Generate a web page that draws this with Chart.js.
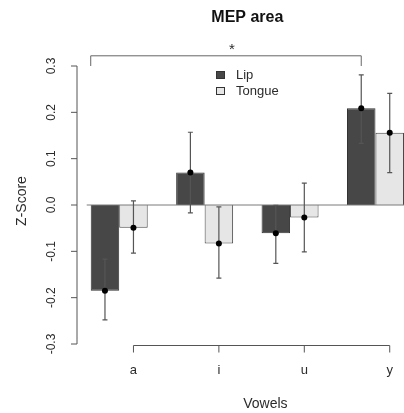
<!DOCTYPE html>
<html>
<head>
<meta charset="utf-8">
<script src="https://cdn.jsdelivr.net/npm/chart.js@4.4.1/dist/chart.umd.min.js"></script>
<style>
    html, body { margin: 0; padding: 0; overflow: hidden; background: #fff; }
    #wrap { position: relative; width: 420px; height: 413px; }
</style>
</head>
<body>
<div id="wrap"><canvas id="mepChart"></canvas></div>
<script>
// ================================
// DATA
// ================================
const vowels = ['a', 'i', 'u', 'y'];

const lipMean = [-0.185, 0.070, -0.061, 0.209];
const lipLow = [-0.248, -0.017, -0.126, 0.133];
const lipHigh = [-0.117, 0.157, -0.001, 0.281];

const tongueMean = [-0.049, -0.083, -0.027, 0.156];
const tongueLow = [-0.104, -0.158, -0.101, 0.070];
const tongueHigh = [0.009, -0.004, 0.047, 0.241];

const yTicks = [-0.3, -0.2, -0.1, 0.0, 0.1, 0.2, 0.3];
const yTickLabels = ['-0.3', '-0.2', '-0.1', '0.0', '0.1', '0.2', '0.3'];

// significance bracket (Lip a .. Lip y)
const sigLevel = 0.322;
const sigDrop = 0.3;
const sigLabel = '*';

const FONT = '"Liberation Sans", Arial, sans-serif';
const INK = '#2b2b2b';

// ================================
// R-STYLE DECORATIONS
// ================================
const rDecor = {
    id: 'rDecor',
    afterDatasetsDraw(chart) {
        const ctx = chart.ctx;
        const area = chart.chartArea;
        const y = chart.scales.y;
        const lipBars = chart.getDatasetMeta(0).data;
        const tongueBars = chart.getDatasetMeta(1).data;

        ctx.save();

        // zero line
        ctx.strokeStyle = '#7a7a7a';
        ctx.lineWidth = 1;
        ctx.beginPath();
        ctx.moveTo(lipBars[0].x - lipBars[0].width / 2 - 4, y.getPixelForValue(0));
        ctx.lineTo(chart.width, y.getPixelForValue(0));
        ctx.stroke();

        // error bars + mean points
        const drawErr = (bars, means, lows, highs) => {
            bars.forEach((bar, i) => {
                const top = y.getPixelForValue(highs[i]);
                const bot = y.getPixelForValue(lows[i]);
                ctx.strokeStyle = '#555';
                ctx.lineWidth = 1.2;
                ctx.beginPath();
                ctx.moveTo(bar.x, top); ctx.lineTo(bar.x, bot);
                ctx.moveTo(bar.x - 2.5, top); ctx.lineTo(bar.x + 2.5, top);
                ctx.moveTo(bar.x - 2.5, bot); ctx.lineTo(bar.x + 2.5, bot);
                ctx.stroke();
                ctx.fillStyle = '#000';
                ctx.beginPath();
                ctx.arc(bar.x, y.getPixelForValue(means[i]), 3, 0, Math.PI * 2);
                ctx.fill();
            });
        };
        drawErr(lipBars, lipMean, lipLow, lipHigh);
        drawErr(tongueBars, tongueMean, tongueLow, tongueHigh);

        // y axis
        const yAxisX = area.left + 0.5;
        ctx.strokeStyle = '#555';
        ctx.lineWidth = 1;
        ctx.beginPath();
        ctx.moveTo(yAxisX, y.getPixelForValue(yTicks[0]));
        ctx.lineTo(yAxisX, y.getPixelForValue(yTicks[yTicks.length - 1]));
        yTicks.forEach(v => {
            const py = y.getPixelForValue(v);
            ctx.moveTo(yAxisX, py); ctx.lineTo(yAxisX - 6, py);
        });
        ctx.stroke();

        ctx.fillStyle = INK;
        ctx.font = '12px ' + FONT;
        ctx.textAlign = 'center';
        ctx.textBaseline = 'middle';
        yTicks.forEach((v, i) => {
            ctx.save();
            ctx.translate(52, y.getPixelForValue(v));
            ctx.rotate(-Math.PI / 2);
            ctx.fillText(yTickLabels[i], 0, 0);
            ctx.restore();
        });

        ctx.save();
        ctx.font = '14px ' + FONT;
        ctx.translate(22, y.getPixelForValue(0) - 4);
        ctx.rotate(-Math.PI / 2);
        ctx.fillText('Z-Score', 0, 0);
        ctx.restore();

        // x axis (ticks sit under the second bar of each group)
        const xAxisY = area.bottom + 1.5;
        const first = tongueBars[0].x;
        const last = tongueBars[tongueBars.length - 1].x;
        ctx.strokeStyle = '#555';
        ctx.beginPath();
        ctx.moveTo(first, xAxisY); ctx.lineTo(last, xAxisY);
        tongueBars.forEach(bar => {
            ctx.moveTo(bar.x, xAxisY); ctx.lineTo(bar.x, xAxisY + 7);
        });
        ctx.stroke();

        ctx.font = '13px ' + FONT;
        tongueBars.forEach((bar, i) => {
            ctx.fillText(vowels[i], bar.x, xAxisY + 25);
        });
        ctx.font = '14px ' + FONT;
        ctx.fillText('Vowels', (area.left + area.right) / 2 + 18, 404);

        // title
        ctx.font = 'bold 16px ' + FONT;
        ctx.fillStyle = '#111';
        ctx.fillText('MEP area', (area.left + area.right) / 2, 18);

        // significance bracket
        const bx0 = lipBars[0].x - lipBars[0].width / 2;
        const bx1 = lipBars[lipBars.length - 1].x;
        const by = y.getPixelForValue(sigLevel);
        const byEnd = y.getPixelForValue(sigDrop);
        ctx.strokeStyle = '#666';
        ctx.beginPath();
        ctx.moveTo(bx0, byEnd); ctx.lineTo(bx0, by);
        ctx.lineTo(bx1, by); ctx.lineTo(bx1, byEnd);
        ctx.stroke();
        ctx.fillStyle = INK;
        ctx.font = '15px ' + FONT;
        ctx.fillText(sigLabel, (bx0 + bx1) / 2 + 6, by - 6);

        // legend
        ctx.font = '13px ' + FONT;
        ctx.textAlign = 'left';
        chart.data.datasets.forEach((ds, i) => {
            const ly = 75 + i * 16;
            ctx.fillStyle = ds.backgroundColor;
            ctx.strokeStyle = '#333';
            ctx.fillRect(216, ly - 4, 9, 8);
            ctx.strokeRect(216.5, ly - 3.5, 8, 7);
            ctx.fillStyle = INK;
            ctx.fillText(ds.label, 236, ly);
        });

        ctx.restore();
    }
};

// ================================
// CHART
// ================================
document.addEventListener('DOMContentLoaded', () => {
    const canvas = document.getElementById('mepChart');

    new Chart(canvas, {
        type: 'bar',
        data: {
            labels: vowels,
            datasets: [{
                label: 'Lip',
                data: lipMean,
                backgroundColor: '#474747',
                borderColor: '#333',
                borderWidth: 1,
                barPercentage: 1.0,
                categoryPercentage: 0.667
            }, {
                label: 'Tongue',
                data: tongueMean,
                backgroundColor: '#e6e6e6',
                borderColor: '#444',
                borderWidth: 1,
                barPercentage: 1.0,
                categoryPercentage: 0.667
            }]
        },
        options: {
            responsive: true,
            maintainAspectRatio: false,
            animation: false,
            layout: { padding: { left: 76.5, right: 1.8, top: 66, bottom: 69 } },
            plugins: {
                legend: { display: false },
                tooltip: { enabled: false }
            },
            scales: {
                x: { display: false },
                y: { display: false, min: -0.3, max: 0.3 }
            }
        },
        plugins: [rDecor]
    });
});
</script>
</body>
</html>
